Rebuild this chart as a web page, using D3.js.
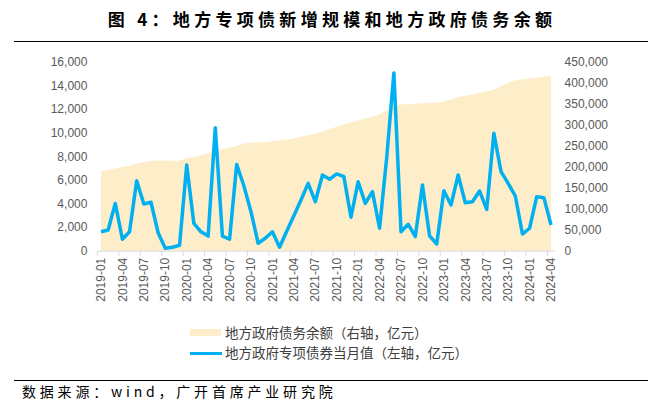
<!DOCTYPE html>
<html>
<head>
<meta charset="utf-8">
<script src="https://cdn.jsdelivr.net/npm/d3@7"></script>
<style>
  body { margin: 0; background: #fff; }
  text { font-family: "Liberation Sans", Arial, sans-serif; }
  .cjk { font-family: "Noto Sans CJK SC", sans-serif; }
</style>
</head>
<body>
<svg id="chart" width="660" height="406"></svg>
<script>
// months 2019-01 .. 2024-04
var months = [];
for (var yr = 2019; yr <= 2024; yr++) {
  for (var mo = 1; mo <= 12; mo++) {
    if (yr == 2024 && mo > 4) break;
    months.push(yr + "-" + (mo < 10 ? "0" + mo : mo));
  }
}
var tickMonths = months.filter(function (d, i) { return i % 3 == 0; });

// 地方政府专项债券当月值 (左轴, 亿元)
var specialBond = [1600, 1750, 4000, 970, 1600, 5930, 3950, 4100, 1520, 200,
  290, 460, 7250, 2320, 1600, 1240, 10400, 1240, 970, 7300,
  5500, 3300, 630, 1050, 1600, 290, 1640, 2960, 4290, 5700,
  4150, 6400, 6050, 6500, 6270, 2830, 5840, 4010, 5000, 1900,
  7900, 15050, 1610, 2240, 1200, 5560, 1250, 570, 5080, 3870,
  6410, 4060, 4150, 5050, 3500, 9940, 6690, 5700, 4630, 1410,
  1900, 4570, 4490, 2180];

// 地方政府债务余额 (右轴, 亿元)
var debtBalance = [189000, 192000, 195000, 199000, 202000, 207000, 211000, 214000, 215000, 214500, 214000, 214000,
  221000, 223000, 227000, 232000, 238000, 242000, 245000, 250000, 255000, 257000, 258000, 258000,
  261000, 263000, 265000, 268000, 272000, 275000, 279000, 284000, 290000, 295000, 301000, 305000,
  310000, 315000, 319000, 325000, 335000, 347000, 348000, 349000, 350000, 351000, 352000, 352000,
  355000, 360000, 366000, 369000, 372000, 376000, 379000, 383000, 392000, 400000, 406000, 408000,
  410000, 412000, 415000, 418000];

var leftTicks = [0, 2000, 4000, 6000, 8000, 10000, 12000, 14000, 16000];
var rightTicks = [0, 50000, 100000, 150000, 200000, 250000, 300000, 350000, 400000, 450000];

var svg = d3.select("#chart");
var plotTop = 61.7, plotBottom = 250.7, plotLeft = 97.4, plotRight = 554.6;

var x = d3.scaleBand().domain(months).range([plotLeft, plotRight]);
var bw = x.bandwidth();
var cx = function (i) { return x(months[i]) + bw / 2; };
var yL = d3.scaleLinear().domain([0, 16000]).range([plotBottom, plotTop]);
var yR = d3.scaleLinear().domain([0, 450000]).range([plotBottom, plotTop]);

// title
svg.append("text").attr("class", "cjk")
  .attr("x", 332).attr("y", 25.5)
  .attr("text-anchor", "middle")
  .style("font-size", "17px").style("font-weight", "bold")
  .style("letter-spacing", "4.3px")
  .text("图 4：地方专项债新增规模和地方政府债务余额");
svg.append("line").attr("x1", 14).attr("x2", 648).attr("y1", 41.5).attr("y2", 41.5)
  .attr("stroke", "#000").attr("stroke-width", 1);

// area (right axis)
var area = d3.area()
  .x(function (d, i) { return cx(i); })
  .y0(plotBottom)
  .y1(function (d) { return yR(d); });
svg.append("path").datum(debtBalance)
  .attr("d", area)
  .attr("fill", "#FEEDC9");

// x axis
var xAxis = svg.append("g")
  .attr("transform", "translate(0," + plotBottom + ")")
  .call(d3.axisBottom(x).tickValues(tickMonths).tickSize(5).tickSizeOuter(0));
xAxis.select(".domain").attr("stroke", "#d9d9d9");
xAxis.selectAll(".tick line").attr("stroke", "#d9d9d9")
  .attr("x1", -bw / 2).attr("x2", -bw / 2);
xAxis.selectAll(".tick text")
  .attr("transform", "rotate(-90)")
  .attr("x", -7).attr("y", 0).attr("dy", "0.35em")
  .attr("text-anchor", "end")
  .attr("fill", "#595959")
  .style("font-size", "12px");

// left axis
var lAxis = svg.append("g")
  .attr("transform", "translate(" + (plotLeft - 10) + ",0)")
  .call(d3.axisLeft(yL).tickValues(leftTicks).tickSize(0).tickFormat(d3.format(",")));
lAxis.select(".domain").remove();
lAxis.selectAll("text").attr("fill", "#595959").style("font-size", "12px").attr("x", 0);

// right axis
var rAxis = svg.append("g")
  .attr("transform", "translate(" + (plotRight + 10) + ",0)")
  .call(d3.axisRight(yR).tickValues(rightTicks).tickSize(0).tickFormat(d3.format(",")));
rAxis.select(".domain").remove();
rAxis.selectAll("text").attr("fill", "#595959").style("font-size", "12px").attr("x", 0);

// line (left axis)
var line = d3.line()
  .x(function (d, i) { return cx(i); })
  .y(function (d) { return yL(d); });
svg.append("path").datum(specialBond)
  .attr("d", line)
  .attr("fill", "none")
  .attr("stroke", "#00B0F0")
  .attr("stroke-width", 3.5)
  .attr("stroke-linejoin", "round");

// legend
var leg = svg.append("g");
leg.append("rect").attr("x", 190).attr("y", 329).attr("width", 31).attr("height", 7)
  .attr("fill", "#FEEDC9");
leg.append("text").attr("class", "cjk").attr("x", 225).attr("y", 333).attr("dy", "0.35em")
  .attr("fill", "#404040").style("font-size", "13.5px")
  .text("地方政府债务余额（右轴，亿元）");
leg.append("line").attr("x1", 190).attr("x2", 222).attr("y1", 353.5).attr("y2", 353.5)
  .attr("stroke", "#00B0F0").attr("stroke-width", 3);
leg.append("text").attr("class", "cjk").attr("x", 225).attr("y", 353.5).attr("dy", "0.35em")
  .attr("fill", "#404040").style("font-size", "13.5px")
  .text("地方政府专项债券当月值（左轴，亿元）");

// footer
svg.append("line").attr("x1", 14).attr("x2", 648).attr("y1", 380.5).attr("y2", 380.5)
  .attr("stroke", "#000").attr("stroke-width", 1);
svg.append("text").attr("class", "cjk")
  .attr("x", 22).attr("y", 397)
  .style("font-size", "14px").style("letter-spacing", "3.8px")
  .text("数据来源：wind，广开首席产业研究院");
</script>
</body>
</html>
